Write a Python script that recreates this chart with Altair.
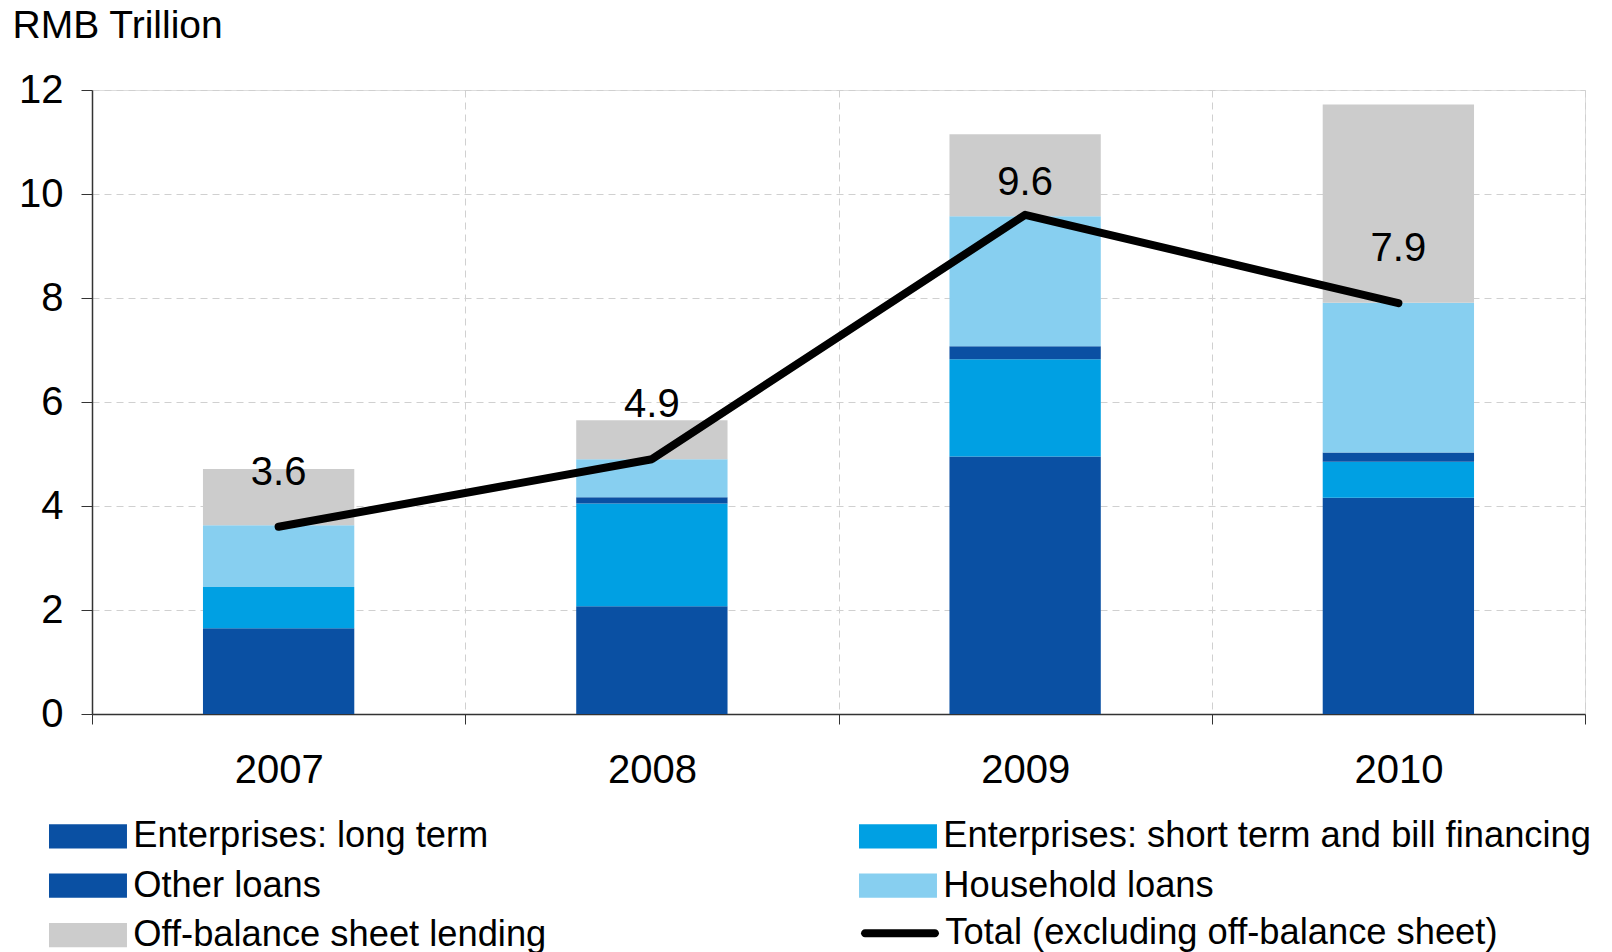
import altair as alt
import pandas as pd

years = ["2007", "2008", "2009", "2010"]
series = [
    "Enterprises: long term",
    "Enterprises: short term and bill financing",
    "Other loans",
    "Household loans",
    "Off-balance sheet lending",
]
long_term = [1.65, 2.07, 4.95, 4.16]
short_term = [0.79, 1.98, 1.87, 0.69]
other_loans = [0.0, 0.12, 0.25, 0.18]
household = [1.19, 0.73, 2.50, 2.88]
off_balance = [1.08, 0.75, 1.58, 3.81]
totals = [3.6, 4.9, 9.6, 7.9]
total_name = "Total (excluding off-balance sheet)"
colors = ["#0A50A3", "#00A0E3", "#0A50A3", "#87CFF0", "#CCCCCC"]

# legend fills column by column: this order gives the reference's row layout
legend_order = [series[0], series[2], series[4], series[1], series[3]]
legend_colors = [colors[series.index(s)] for s in legend_order]

FONT = "Liberation Sans"

rows = []
for i, y in enumerate(years):
    for k, (name, vals) in enumerate(zip(series, [long_term, short_term, other_loans, household, off_balance])):
        rows.append({"year": y, "series": name, "value": vals[i], "order": k})
bar_df = pd.DataFrame(rows)
tot_df = pd.DataFrame({"year": years, "total": totals, "label": [f"{t:.1f}" for t in totals], "lname": [total_name] * 4})

x_enc = alt.X(
    "year:N",
    title=None,
    scale=alt.Scale(paddingInner=0, paddingOuter=0),
    axis=alt.Axis(
        labelAngle=0, labelFontSize=40, labelFont=FONT, labelColor="black",
        tickBand="extent", tickSize=10, tickColor="#333333", labelPadding=26,
        grid=True, gridDash=[7, 5], gridColor="#D0D0D0", gridWidth=1,
        domainColor="#333333", domainWidth=1.5,
    ),
)

bars = alt.Chart(bar_df).mark_bar(strokeWidth=0, width=alt.RelativeBandSize(0.4054)).encode(
    x=x_enc,
    y=alt.Y(
        "value:Q",
        stack="zero",
        scale=alt.Scale(domain=[0, 12], nice=False),
        axis=alt.Axis(
            title="RMB Trillion", titleAngle=0, titleAlign="left", titleBaseline="alphabetic",
            titleX=-80, titleY=-53, titleFontSize=39, titleFont=FONT, titleFontWeight="normal",
            titleColor="black",
            values=[0, 2, 4, 6, 8, 10, 12], labelFontSize=40, labelFont=FONT, labelColor="black",
            tickSize=11, tickColor="#333333", labelPadding=18,
            grid=True, gridDash=[7, 5], gridColor="#D0D0D0", gridWidth=1,
            domainColor="#333333", domainWidth=1.5,
        ),
    ),
    color=alt.Color(
        "series:N",
        sort=legend_order,
        scale=alt.Scale(domain=legend_order, range=legend_colors),
        legend=alt.Legend(
            title=None, orient="none", legendX=-49, legendY=728, columns=2,
            columnPadding=306, rowPadding=12.5,
            symbolType="M-1,-1H5.42V1H-1Z", symbolSize=590, symbolStrokeWidth=0,
            symbolOpacity=1, labelOffset=54, labelFontSize=36.3, labelFont=FONT,
            labelColor="black", labelLimit=800,
        ),
    ),
    order=alt.Order("order:Q", sort="ascending"),
)

line = alt.Chart(tot_df).mark_line(strokeWidth=8, strokeCap="round", strokeJoin="round").encode(
    x=alt.X("year:N"),
    y=alt.Y("total:Q"),
    stroke=alt.Stroke(
        "lname:N",
        scale=alt.Scale(domain=[total_name], range=["black"]),
        legend=alt.Legend(
            title=None, orient="none", legendX=763, legendY=825,
            symbolType="M-0.67,-0.33H5.09A0.33,0.33 0 0 1 5.09,0.33H-0.67A0.33,0.33 0 0 1 -0.67,-0.33Z",
            symbolSize=590, symbolStrokeWidth=0, symbolFillColor="black",
            symbolOpacity=1, labelOffset=54, labelFontSize=36.3, labelFont=FONT,
            labelColor="black", labelLimit=800,
        ),
    ),
)

text_main = alt.Chart(tot_df).transform_filter(alt.datum.year != "2009").mark_text(
    fontSize=40, font=FONT, color="black", baseline="middle", dy=-54
).encode(x="year:N", y="total:Q", text="label:N")

text_peak = alt.Chart(tot_df).transform_filter(alt.datum.year == "2009").mark_text(
    fontSize=40, font=FONT, color="black", baseline="middle", dy=-32
).encode(x="year:N", y="total:Q", text="label:N")

chart = alt.layer(bars, line, text_main, text_peak).properties(
    width=1493, height=624,
    autosize=alt.AutoSizeParams(type="none"),
    padding={"left": 92, "top": 90, "right": 27, "bottom": 238},
    background="white",
).configure_view(stroke=None).configure(font=FONT)

chart.save("out.html", embed_options={"renderer": "svg", "actions": False})
